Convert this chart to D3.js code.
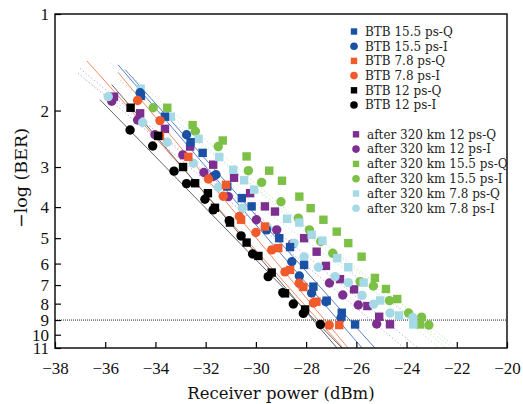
<!DOCTYPE html>
<html>
<head>
<meta charset="utf-8">
<script src="https://cdn.jsdelivr.net/npm/d3@7"></script>
<style>
  body { margin: 0; background: #fff; }
</style>
</head>
<body>
<div id="chart"></div>
<script>
// Measured points: [receiver power (dBm), -log(BER)]
const btb155Q = [[-34.58,1.80],[-33.62,2.09],[-32.60,2.51],[-32.12,2.71],[-31.14,3.45],[-30.56,3.75],[-30.17,3.98],[-29.07,5.00],[-28.64,5.33],[-28.08,6.06],[-27.71,7.08],[-27.18,7.83],[-26.58,8.54],[-26.05,9.29]];
const btb155I = [[-34.61,1.76],[-32.76,2.38],[-31.59,3.17],[-29.57,4.71],[-28.57,5.92],[-28.27,6.56],[-27.78,7.41],[-27.21,7.89],[-26.61,8.87]];
const btb78Q = [[-33.82,2.40],[-32.69,2.79],[-31.19,3.41],[-30.59,4.38],[-29.64,4.60],[-29.11,5.37],[-28.64,6.28],[-28.11,7.10],[-27.59,7.89],[-26.68,9.33]];
const btb78I = [[-34.71,1.86],[-33.82,2.15],[-31.89,3.27],[-31.30,3.70],[-30.66,4.28],[-30.00,4.80],[-29.37,5.44],[-28.84,6.37],[-28.28,6.91],[-27.71,7.96],[-27.08,9.33]];
const btb12Q = [[-34.99,1.96],[-33.89,2.40],[-32.90,3.00],[-32.42,3.37],[-31.91,3.62],[-31.63,4.02],[-31.03,4.47],[-30.37,5.16],[-29.90,5.68],[-29.37,6.40],[-28.84,7.43],[-28.04,8.34]];
const btb12I = [[-35.01,2.30],[-34.11,2.58],[-33.26,3.09],[-32.76,3.38],[-32.03,3.78],[-31.70,4.08],[-31.06,4.41],[-30.59,4.92],[-30.13,5.60],[-29.51,6.59],[-28.93,7.39],[-28.51,8.02],[-28.11,8.58],[-27.43,9.29]];
const after12Q = [[-35.65,1.81],[-34.61,2.04],[-33.62,2.28],[-32.62,2.59],[-31.70,2.95],[-30.87,3.24],[-30.23,3.62],[-29.64,3.98],[-29.24,4.13],[-28.08,5.00],[-27.58,5.51],[-27.21,6.10],[-26.65,6.71],[-26.09,7.22],[-25.56,8.14],[-25.09,8.79],[-24.66,9.28]];
const after12I = [[-35.74,1.87],[-34.71,2.14],[-34.02,2.38],[-32.91,2.75],[-32.07,3.12],[-31.70,3.21],[-31.10,3.71],[-29.98,4.38],[-29.17,4.71],[-28.54,5.21],[-27.07,6.90],[-26.54,7.52],[-25.92,8.08],[-25.19,9.26]];
const after155Q = [[-33.53,1.96],[-32.52,2.22],[-31.32,2.48],[-30.37,2.78],[-29.47,3.08],[-28.96,3.31],[-28.27,3.71],[-27.82,4.03],[-27.31,4.38],[-26.78,4.77],[-26.32,5.18],[-25.79,5.71],[-25.26,6.65],[-24.82,7.20],[-24.37,7.74],[-23.46,9.29]];
const after155I = [[-34.09,1.96],[-32.41,2.32],[-31.50,2.59],[-30.30,3.08],[-29.77,3.35],[-29.00,3.85],[-28.31,4.33],[-27.87,4.71],[-27.42,5.12],[-26.94,5.57],[-25.85,6.83],[-25.32,7.05],[-24.68,7.83],[-23.92,8.56],[-23.40,8.81],[-23.11,9.33]];
const after78Q = [[-34.59,1.71],[-33.39,2.09],[-32.28,2.45],[-31.46,2.79],[-30.90,3.06],[-30.47,3.30],[-30.07,3.53],[-28.76,4.35],[-28.27,4.47],[-27.78,4.88],[-27.35,5.09],[-26.76,5.77],[-26.32,6.16],[-25.71,6.88],[-25.05,7.82],[-24.30,8.71],[-23.73,9.29]];
const after78I = [[-35.88,1.81],[-34.51,2.18],[-33.53,2.51],[-32.49,2.92],[-31.50,3.47],[-30.54,4.03],[-29.55,4.62],[-28.48,5.18],[-28.08,5.72],[-27.51,6.16],[-26.85,6.59],[-26.32,6.88],[-25.77,7.54],[-25.31,8.03],[-24.66,8.56],[-23.75,8.84]];

// Fitted lines: start and end points
const fitBtb155Q = [[-35.21,1.49],[-25.26,11]];
const fitBtb155I = [[-35.49,1.44],[-25.77,11]];
const fitBtb78Q = [[-36.73,1.40],[-26.53,11]];
const fitBtb78I = [[-35.49,1.52],[-26.33,11]];
const fitBtb12Q = [[-35.74,1.66],[-26.77,11]];
const fitBtb12I = [[-36.21,1.85],[-26.57,11]];
const fitAfter12Q = [[-37.00,1.48],[-23.54,11]];
const fitAfter12I = [[-37.08,1.53],[-24.10,11]];
const fitAfter155Q = [[-35.21,1.50],[-22.43,11]];
const fitAfter155I = [[-35.41,1.61],[-21.99,11]];
const fitAfter78Q = [[-35.81,1.42],[-22.71,11]];
const fitAfter78I = [[-36.81,1.60],[-22.15,11]];

const xTicks = [-38, -36, -34, -32, -30, -28, -26, -24, -22, -20];
const yTicks = [1, 2, 3, 4, 5, 6, 7, 8, 9, 10, 11];
const berLimit = 9;

const width = 523, height = 404;
const margin = { top: 14, right: 16, bottom: 56, left: 55 };

const x = d3.scaleLinear().domain([-38, -20]).range([margin.left, width - margin.right]);
const y = d3.scaleLog().domain([1, 11]).range([margin.top, height - margin.bottom]);

const blue = "#1a51a5", orange = "#f15a2b", black = "#000", purple = "#7d2f90",
  green = "#7cc146", lightBlue = "#a5d9e6";

const series = [
  { name: "BTB 15.5 ps-Q", data: btb155Q, fit: fitBtb155Q, color: blue, line: "#5a7fc4", shape: "square", group: 0 },
  { name: "BTB 15.5 ps-I", data: btb155I, fit: fitBtb155I, color: blue, line: "#5a7fc4", shape: "circle", group: 0 },
  { name: "BTB 7.8 ps-Q", data: btb78Q, fit: fitBtb78Q, color: orange, line: "#f48a66", shape: "square", group: 0 },
  { name: "BTB 7.8 ps-I", data: btb78I, fit: fitBtb78I, color: orange, line: "#f48a66", shape: "circle", group: 0 },
  { name: "BTB 12 ps-Q", data: btb12Q, fit: fitBtb12Q, color: black, line: "#666", shape: "square", group: 0 },
  { name: "BTB 12 ps-I", data: btb12I, fit: fitBtb12I, color: black, line: "#666", shape: "circle", group: 0 },
  { name: "after 320 km 12 ps-Q", data: after12Q, fit: fitAfter12Q, color: purple, line: "#c49ad2", shape: "square", group: 1 },
  { name: "after 320 km 12 ps-I", data: after12I, fit: fitAfter12I, color: purple, line: "#c49ad2", shape: "circle", group: 1 },
  { name: "after 320 km 15.5 ps-Q", data: after155Q, fit: fitAfter155Q, color: green, line: "#c4e2a4", shape: "square", group: 1 },
  { name: "after 320 km 15.5 ps-I", data: after155I, fit: fitAfter155I, color: green, line: "#c4e2a4", shape: "circle", group: 1 },
  { name: "after 320 km 7.8 ps-Q", data: after78Q, fit: fitAfter78Q, color: lightBlue, line: "#b5e2ec", shape: "square", group: 1 },
  { name: "after 320 km 7.8 ps-I", data: after78I, fit: fitAfter78I, color: lightBlue, line: "#b5e2ec", shape: "circle", group: 1 },
];

const svg = d3.select("#chart").append("svg")
  .attr("width", width)
  .attr("height", height)
  .attr("viewBox", [0, 0, width, height]);

const defs = svg.append("defs");
defs.append("clipPath").attr("id", "plot-clip")
  .append("rect")
  .attr("x", margin.left).attr("y", margin.top)
  .attr("width", width - margin.left - margin.right)
  .attr("height", height - margin.top - margin.bottom);

const plot = svg.append("g").attr("clip-path", "url(#plot-clip)");

// Fit lines (solid for BTB, dotted after transmission)
plot.append("g")
  .selectAll("line")
  .data(series)
  .join("line")
  .attr("x1", (d) => x(d.fit[0][0]))
  .attr("y1", (d) => y(d.fit[0][1]))
  .attr("x2", (d) => x(d.fit[1][0]))
  .attr("y2", (d) => y(d.fit[1][1]))
  .attr("stroke", (d) => d.line)
  .attr("stroke-width", 1)
  .attr("stroke-dasharray", (d) => (d.group === 1 ? "1.2,2.4" : null));

// BER threshold
plot.append("line")
  .attr("x1", x(-38)).attr("x2", x(-20))
  .attr("y1", y(berLimit)).attr("y2", y(berLimit))
  .attr("stroke", "#222")
  .attr("stroke-width", 1)
  .attr("stroke-dasharray", "1,1");

// Markers: after-transmission first, BTB on top
const drawOrder = series.slice(6).concat(series.slice(0, 6));
drawOrder.forEach((s) => {
  const g = plot.append("g").attr("fill", s.color);
  if (s.shape === "square") {
    g.selectAll("rect").data(s.data).join("rect")
      .attr("x", (d) => x(d[0]) - 4.2)
      .attr("y", (d) => y(d[1]) - 4.2)
      .attr("width", 8.4)
      .attr("height", 8.4);
  } else {
    g.selectAll("circle").data(s.data).join("circle")
      .attr("cx", (d) => x(d[0]))
      .attr("cy", (d) => y(d[1]))
      .attr("r", 4.7);
  }
});

// Axes
const plotBottom = height - margin.bottom;

svg.append("g")
  .attr("transform", `translate(0,${plotBottom})`)
  .call(d3.axisBottom(x).tickValues(xTicks).tickSizeInner(-6).tickSizeOuter(0).tickPadding(14))
  .call((g) => g.select(".domain").remove())
  .call((g) => g.selectAll(".tick line").attr("stroke", "#000").attr("stroke-width", 1.2))
  .call((g) => g.selectAll(".tick text")
    .attr("font-family", "'Liberation Serif', serif")
    .attr("font-size", 17)
    .attr("fill", "#111"));

svg.append("g")
  .attr("transform", `translate(${margin.left},0)`)
  .call(d3.axisLeft(y).tickValues(yTicks).tickFormat(d3.format("d")).tickSizeInner(-6).tickSizeOuter(0).tickPadding(6))
  .call((g) => g.select(".domain").remove())
  .call((g) => g.selectAll(".tick line").attr("stroke", "#000").attr("stroke-width", 1.2))
  .call((g) => g.selectAll(".tick text")
    .attr("font-family", "'Liberation Serif', serif")
    .attr("font-size", 17)
    .attr("fill", "#111"));

// Frame
svg.append("rect")
  .attr("x", margin.left)
  .attr("y", margin.top)
  .attr("width", width - margin.left - margin.right)
  .attr("height", height - margin.top - margin.bottom)
  .attr("fill", "none")
  .attr("stroke", "#000")
  .attr("stroke-width", 1.4);

// Axis titles
svg.append("text")
  .attr("x", (margin.left + width - margin.right) / 2)
  .attr("y", 399)
  .attr("text-anchor", "middle")
  .attr("font-family", "'DejaVu Serif', serif")
  .attr("font-size", 16.5)
  .attr("fill", "#111")
  .text("Receiver power (dBm)");

svg.append("text")
  .attr("transform", "translate(27,178) rotate(-90)")
  .attr("text-anchor", "middle")
  .attr("font-family", "'DejaVu Serif', serif")
  .attr("font-size", 17.5)
  .attr("fill", "#111")
  .text("−log (BER)");

// Legend
const legendRows = [
  { top: 31.5, step: 14.7, mx: 354, tx: 365 },
  { top: 134.3, step: 14.8, mx: 356, tx: 367 },
];
series.forEach((s, i) => {
  const L = legendRows[s.group];
  const cy = L.top + (i % 6) * L.step;
  const g = svg.append("g");
  if (s.shape === "square") {
    g.append("rect").attr("x", L.mx - 3.2).attr("y", cy - 3.2)
      .attr("width", 6.4).attr("height", 6.4).attr("fill", s.color);
  } else {
    g.append("circle").attr("cx", L.mx).attr("cy", cy).attr("r", 3.8).attr("fill", s.color);
  }
  g.append("text")
    .attr("x", L.tx)
    .attr("y", cy)
    .attr("dy", "0.36em")
    .attr("font-family", "'DejaVu Serif', serif")
    .attr("font-size", 12)
    .attr("fill", "#222")
    .text(s.name);
});
</script>
</body>
</html>
